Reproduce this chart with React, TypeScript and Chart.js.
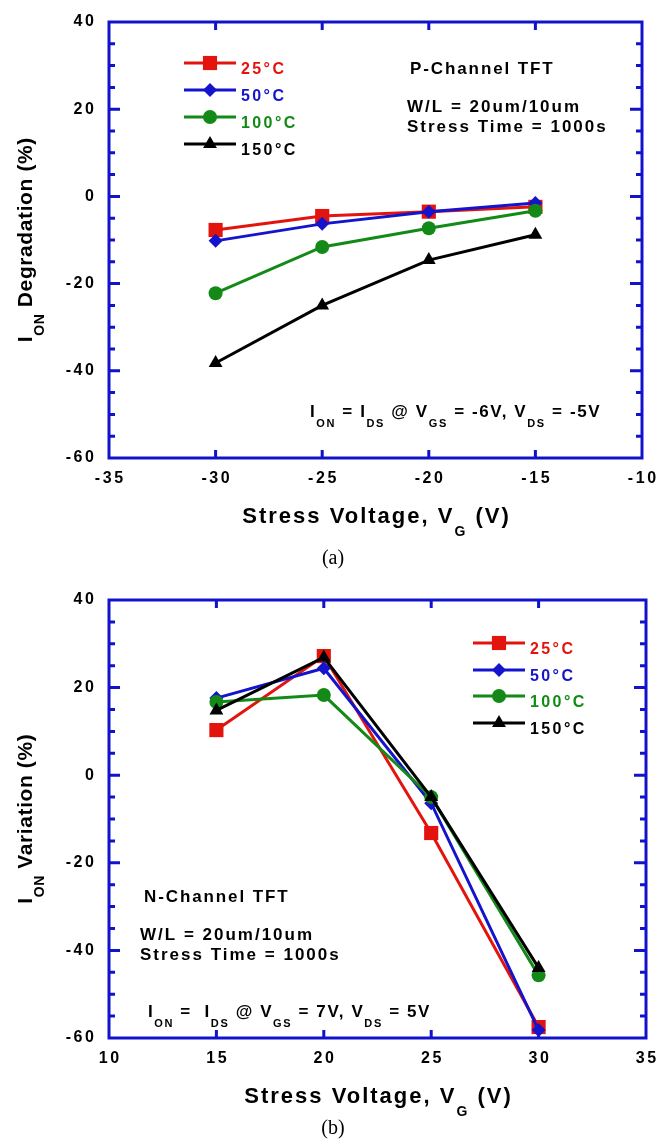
import React, { useEffect, useRef } from 'react';
import { Chart, registerables } from 'chart.js';
Chart.register(...registerables);

// ---------- data ----------
const temps = ['25°C', '50°C', '100°C', '150°C'];
const seriesColors = ['#e3140e', '#1414cc', '#138a17', '#000000'];
const pointStyles = ['rect', 'rectRot', 'circle', 'triangle'];
const pointRadii = [10, 7, 7, 8];

const pVoltages = [-30, -25, -20, -15];
const p25 = [-7.7, -4.5, -3.5, -2.4];
const p50 = [-10.2, -6.3, -3.5, -1.5];
const p100 = [-22.2, -11.6, -7.3, -3.3];
const p150 = [-38.2, -25.0, -14.6, -8.8];

const nVoltages = [15, 20, 25, 30];
const n25 = [10.3, 27.2, -13.2, -57.5];
const n50 = [17.6, 24.4, -6.4, -58.2];
const n100 = [16.7, 18.3, -5.0, -45.7];
const n150 = [14.8, 26.9, -5.0, -44.0];

const pXTicks = [-35, -30, -25, -20, -15, -10];
const nXTicks = [10, 15, 20, 25, 30, 35];
const yTicks = [40, 20, 0, -20, -40, -60];
const yMinorStep = 5;

const FRAME = '#1212cc';
const FAM = '"Liberation Sans", Arial, Helvetica, sans-serif';
const SERIF = '"Liberation Serif", "Times New Roman", serif';

type Seg = [string, boolean?];

function drawRich(
  ctx: CanvasRenderingContext2D,
  segs: Seg[],
  x: number,
  y: number,
  size: number,
  sp: number,
  color: string,
  align: 'left' | 'center' | 'right' = 'left',
  baseline: CanvasTextBaseline = 'alphabetic'
) {
  const subSize = Math.round(size * 0.65);
  const widths: number[] = [];
  let w = 0;
  ctx.save();
  ctx.textBaseline = baseline;
  ctx.textAlign = 'left';
  (ctx as any).letterSpacing = sp + 'px';
  for (const [t, sub] of segs) {
    ctx.font = `bold ${sub ? subSize : size}px ${FAM}`;
    const m = ctx.measureText(t).width;
    widths.push(m);
    w += m;
  }
  w -= sp;
  let cx = align === 'center' ? x - w / 2 : align === 'right' ? x - w : x;
  ctx.fillStyle = color;
  segs.forEach(([t, sub], i) => {
    ctx.font = `bold ${sub ? subSize : size}px ${FAM}`;
    ctx.fillText(t, cx, sub ? y + size * 0.58 : y);
    cx += widths[i];
  });
  ctx.restore();
}

function drawMarker(ctx: CanvasRenderingContext2D, style: string, x: number, y: number, r: number, color: string) {
  ctx.save();
  ctx.fillStyle = color;
  ctx.beginPath();
  if (style === 'rect') {
    const s = Math.SQRT1_2 * r;
    ctx.rect(x - s, y - s, 2 * s, 2 * s);
  } else if (style === 'rectRot') {
    ctx.moveTo(x - r, y);
    ctx.lineTo(x, y - r);
    ctx.lineTo(x + r, y);
    ctx.lineTo(x, y + r);
    ctx.closePath();
  } else if (style === 'circle') {
    ctx.arc(x, y, r, 0, Math.PI * 2);
  } else {
    const a = (2 * Math.PI) / 3;
    ctx.moveTo(x, y - r);
    ctx.lineTo(x + Math.sin(a) * r, y - Math.cos(a) * r);
    ctx.lineTo(x + Math.sin(2 * a) * r, y - Math.cos(2 * a) * r);
    ctx.closePath();
  }
  ctx.fill();
  ctx.restore();
}

interface Note {
  segs: Seg[];
  x: number;
  y: number;
  sp: number;
}

interface PanelSpec {
  xs: number[];
  ys: number[][];
  xMin: number;
  xMax: number;
  xTicks: number[];
  padding: { left: number; top: number; right: number; bottom: number };
  yTitle: Seg[];
  xTitle: Seg[];
  caption: string;
  captionY: number;
  legend: { lineX0: number; lineX1: number; textX: number; rows: number[] };
  notes: Note[];
}

function makeConfig(spec: PanelSpec): any {
  const datasets = spec.ys.map((arr, i) => ({
    label: temps[i],
    data: spec.xs.map((x, j) => ({ x, y: arr[j] })),
    borderColor: seriesColors[i],
    backgroundColor: seriesColors[i],
    pointStyle: pointStyles[i],
    pointRadius: pointRadii[i],
    pointBorderWidth: 0,
    borderWidth: 3,
    order: 3 - i,
    tension: 0,
    clip: false,
  }));

  const framePlugin = {
    id: 'frame',
    beforeDatasetsDraw(chart: any) {
      const ctx: CanvasRenderingContext2D = chart.ctx;
      const a = chart.chartArea;
      const xs = chart.scales.x;
      const ys = chart.scales.y;
      ctx.save();
      ctx.strokeStyle = FRAME;
      ctx.lineWidth = 3;
      ctx.lineCap = 'butt';
      ctx.strokeRect(a.left, a.top, a.right - a.left, a.bottom - a.top);
      ctx.beginPath();
      for (const v of spec.xTicks) {
        const px = xs.getPixelForValue(v);
        if (px < a.left + 3 || px > a.right - 3) continue;
        ctx.moveTo(px, a.bottom);
        ctx.lineTo(px, a.bottom - 8);
        ctx.moveTo(px, a.top);
        ctx.lineTo(px, a.top + 8);
      }
      for (let v = ys.min; v <= ys.max; v += yMinorStep) {
        const py = ys.getPixelForValue(v);
        if (py < a.top + 3 || py > a.bottom - 3) continue;
        const major = yTicks.includes(v);
        ctx.moveTo(a.left, py);
        ctx.lineTo(a.left + (major ? 11 : 6), py);
        ctx.moveTo(a.right, py);
        ctx.lineTo(a.right - (major ? 12 : 6), py);
      }
      ctx.stroke();
      ctx.restore();
    },
    afterDraw(chart: any) {
      const ctx: CanvasRenderingContext2D = chart.ctx;
      const a = chart.chartArea;
      const xs = chart.scales.x;
      const ys = chart.scales.y;
      // tick labels
      for (const v of spec.xTicks) {
        drawRich(ctx, [[String(v)]], xs.getPixelForValue(v), a.bottom + 21, 16, 2.6, '#000', 'center', 'middle');
      }
      for (const v of yTicks) {
        drawRich(ctx, [[String(v)]], a.left - 15, ys.getPixelForValue(v), 16, 2.6, '#000', 'right', 'middle');
      }
      // x title
      drawRich(ctx, spec.xTitle, (a.left + a.right) / 2, a.bottom + 65, 22, 2, '#000', 'center');
      // y title
      ctx.save();
      ctx.translate(32, (a.top + a.bottom) / 2);
      ctx.rotate(-Math.PI / 2);
      drawRich(ctx, spec.yTitle, 0, 0, 21, 0.6, '#000', 'center');
      ctx.restore();
      // caption
      ctx.save();
      ctx.font = `20px ${SERIF}`;
      ctx.fillStyle = '#000';
      ctx.textAlign = 'center';
      ctx.fillText(spec.caption, 333, spec.captionY);
      ctx.restore();
      // legend
      const L = spec.legend;
      L.rows.forEach((ry, i) => {
        ctx.save();
        ctx.strokeStyle = seriesColors[i];
        ctx.lineWidth = 3;
        ctx.beginPath();
        ctx.moveTo(L.lineX0, ry);
        ctx.lineTo(L.lineX1, ry);
        ctx.stroke();
        ctx.restore();
        drawMarker(ctx, pointStyles[i], (L.lineX0 + L.lineX1) / 2, ry, pointRadii[i], seriesColors[i]);
        drawRich(ctx, [[temps[i]]], L.textX, ry + 11, 16, 2.4, seriesColors[i]);
      });
      // notes
      for (const n of spec.notes) {
        drawRich(ctx, n.segs, n.x, n.y, 17, n.sp, '#000');
      }
    },
  };

  return {
    type: 'line',
    data: { datasets },
    options: {
      animation: false,
      responsive: false,
      devicePixelRatio: 1,
      layout: { padding: spec.padding },
      scales: {
        x: { type: 'linear', min: spec.xMin, max: spec.xMax, display: false },
        y: { type: 'linear', min: -60, max: 40, display: false },
      },
      plugins: { legend: { display: false }, tooltip: { enabled: false } },
      events: [],
    },
    plugins: [framePlugin],
  };
}

const topSpec: PanelSpec = {
  xs: pVoltages,
  ys: [p25, p50, p100, p150],
  xMin: -35,
  xMax: -10,
  xTicks: pXTicks,
  padding: { left: 109, top: 22, right: 15, bottom: 112 },
  yTitle: [['I'], ['ON', true], [' Degradation (%)']],
  xTitle: [['Stress Voltage, V'], ['G', true], [' (V)']],
  caption: '(a)',
  captionY: 564,
  legend: { lineX0: 184, lineX1: 236, textX: 241, rows: [63, 90, 117, 144] },
  notes: [
    { segs: [['P-Channel TFT']], x: 410, y: 74, sp: 1.9 },
    { segs: [['W/L = 20um/10um']], x: 407, y: 112, sp: 2 },
    { segs: [['Stress Time = 1000s']], x: 407, y: 132, sp: 2 },
    {
      segs: [['I'], ['ON', true], [' = I'], ['DS', true], [' @ V'], ['GS', true], [' = -6V, V'], ['DS', true], [' = -5V']],
      x: 310,
      y: 417,
      sp: 1.6,
    },
  ],
};

const OFF = 570;
const bottomSpec: PanelSpec = {
  xs: nVoltages,
  ys: [n25, n50, n100, n150],
  xMin: 10,
  xMax: 35,
  xTicks: nXTicks,
  padding: { left: 109, top: 30, right: 11, bottom: 103 },
  yTitle: [['I'], ['ON', true], [' Variation (%)']],
  xTitle: [['Stress Voltage, V'], ['G', true], [' (V)']],
  caption: '(b)',
  captionY: 1134 - OFF,
  legend: { lineX0: 473, lineX1: 525, textX: 530, rows: [643 - OFF, 670 - OFF, 696 - OFF, 723 - OFF] },
  notes: [
    { segs: [['N-Channel TFT']], x: 144, y: 902 - OFF, sp: 1.9 },
    { segs: [['W/L = 20um/10um']], x: 140, y: 940 - OFF, sp: 2 },
    { segs: [['Stress Time = 1000s']], x: 140, y: 960 - OFF, sp: 2 },
    {
      segs: [['I'], ['ON', true], [' =  I'], ['DS', true], [' @ V'], ['GS', true], [' = 7V, V'], ['DS', true], [' = 5V']],
      x: 148,
      y: 1017 - OFF,
      sp: 1.6,
    },
  ],
};

function Panel({ spec, top, height }: { spec: PanelSpec; top: number; height: number }) {
  const ref = useRef<HTMLCanvasElement | null>(null);
  useEffect(() => {
    if (!ref.current) return;
    const chart = new Chart(ref.current, makeConfig(spec));
    return () => chart.destroy();
  }, [spec]);
  return (
    <canvas
      ref={ref}
      width={657}
      height={height}
      style={{ position: 'absolute', left: 0, top, width: 657, height, display: 'block' }}
    />
  );
}

export default function App() {
  return (
    <div style={{ position: 'absolute', left: 0, top: 0, width: 657, height: 1141, background: '#fff', overflow: 'hidden' }}>
      <Panel spec={topSpec} top={0} height={570} />
      <Panel spec={bottomSpec} top={OFF} height={571} />
    </div>
  );
}
